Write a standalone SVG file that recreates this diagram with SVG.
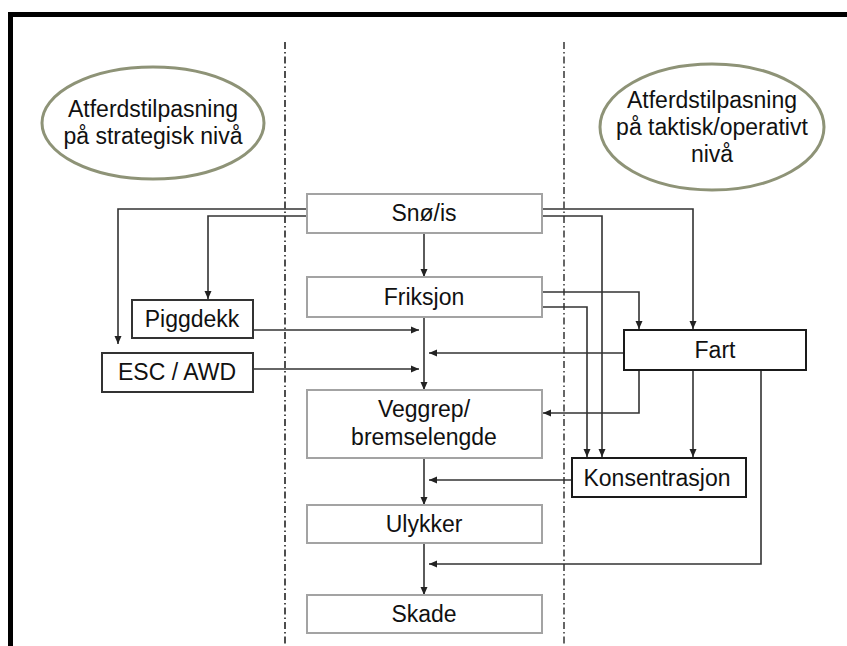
<svg xmlns="http://www.w3.org/2000/svg" width="847" height="646" viewBox="0 0 847 646">
<defs>
<marker id="ah" markerUnits="userSpaceOnUse" markerWidth="9" markerHeight="8" refX="8" refY="4" orient="auto">
<path d="M0,0.5 L8,4 L0,7.5 z" fill="#222"/>
</marker>
<style>
text{font-family:"Liberation Sans",Arial,sans-serif;font-size:23px;fill:#111;text-anchor:middle}
.frame{fill:none;stroke:#000;stroke-width:5}
.div{fill:none;stroke:#222;stroke-width:1.6;stroke-dasharray:7 3 1.5 3}
.div2{fill:none;stroke:#666;stroke-width:2;stroke-dasharray:7 3 1.5 3}
.ell{fill:#fff;stroke:#8e9377;stroke-width:3}
.cbox{fill:#fff;stroke:#a3a3a3;stroke-width:2}
.dbox{fill:#fff;stroke:#333;stroke-width:2}
.kbox{fill:#fff;stroke:#1a1a1a;stroke-width:2}
.con{fill:none;stroke:#333;stroke-width:1.6;marker-end:url(#ah)}
</style>
</defs>
<rect width="847" height="646" fill="#fff"/>
<path class="frame" d="M10.5,652 V14.5 H852"/>
<line class="div" x1="285" y1="42" x2="285" y2="646"/>
<line class="div2" x1="564" y1="42" x2="564" y2="646"/>
<g id="ellipse-strategic">
<ellipse class="ell" cx="153" cy="123" rx="111" ry="56"/>
<text x="153" y="117">Atferdstilpasning</text>
<text x="153" y="144">på strategisk nivå</text>
</g>
<g id="ellipse-tactical">
<ellipse class="ell" cx="712" cy="127" rx="112" ry="63"/>
<text x="712" y="108">Atferdstilpasning</text>
<text x="712" y="135">på taktisk/operativt</text>
<text x="712" y="162">nivå</text>
</g>
<g id="connectors">
<path class="con" d="M307,209 H118 V344"/>
<path class="con" d="M307,216 H208 V299"/>
<path class="con" d="M424,233 V277"/>
<path class="con" d="M542,209 H693 V329"/>
<path class="con" d="M542,216 H602 V457"/>
<path class="con" d="M542,292 H639 V329"/>
<path class="con" d="M542,307 H587 V457"/>
<path class="con" d="M424,317 V390"/>
<path class="con" d="M253,330 H419"/>
<path class="con" d="M253,369 H419"/>
<path class="con" d="M624,353 H429"/>
<path class="con" d="M639,370 V413 H543"/>
<path class="con" d="M693,370 V457"/>
<path class="con" d="M761,370 V564 H429"/>
<path class="con" d="M572,480 H429"/>
<path class="con" d="M424,458 V505"/>
<path class="con" d="M424,543 V595"/>
</g>
<g id="sno-is">
<rect class="cbox" x="307" y="194" width="235" height="39"/>
<text x="424" y="221">Snø/is</text>
</g>
<g id="friksjon">
<rect class="cbox" x="307" y="277" width="235" height="40"/>
<text x="424" y="305">Friksjon</text>
</g>
<g id="veggrep">
<rect class="cbox" x="307" y="390" width="235" height="68"/>
<text x="424" y="417">Veggrep/</text>
<text x="424" y="445">bremselengde</text>
</g>
<g id="ulykker">
<rect class="cbox" x="307" y="505" width="235" height="38"/>
<text x="424" y="532">Ulykker</text>
</g>
<g id="skade">
<rect class="cbox" x="307" y="595" width="235" height="38"/>
<text x="424" y="622">Skade</text>
</g>
<g id="piggdekk">
<rect class="dbox" x="132" y="300" width="121" height="38"/>
<text x="192" y="327">Piggdekk</text>
</g>
<g id="esc-awd">
<rect class="dbox" x="102" y="353" width="151" height="39"/>
<text x="177" y="380">ESC / AWD</text>
</g>
<g id="fart">
<rect class="kbox" x="624" y="330" width="182" height="40"/>
<text x="715" y="358">Fart</text>
</g>
<g id="konsentrasjon">
<rect class="kbox" x="572" y="458" width="174" height="39"/>
<text x="657" y="486">Konsentrasjon</text>
</g>
</svg>
